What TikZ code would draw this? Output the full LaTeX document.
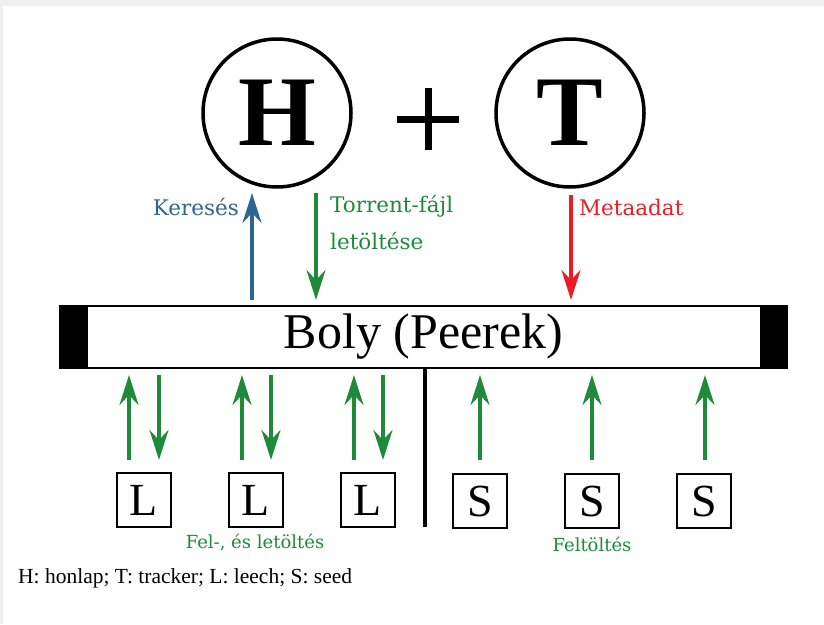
\documentclass[tikz,border=0pt]{standalone}
\usepackage{fontspec}
\setmainfont{Liberation Serif}
\newfontfamily\lblfont{DejaVu Serif}
\usetikzlibrary{arrows.meta}
\definecolor{mygreen}{RGB}{30,138,58}
\definecolor{myblue}{RGB}{47,101,145}
\definecolor{myred}{RGB}{237,28,36}
\definecolor{framegray}{RGB}{239,239,239}
\tikzset{
  bigcircle/.style={circle, draw, line width=3.5pt, minimum size=148pt, inner sep=0pt, font=\fontsize{100}{100}\selectfont\bfseries},
  peerbox/.style={draw, line width=1.8pt, minimum width=54pt, minimum height=54pt, inner sep=0pt, font=\fontsize{46}{46}\selectfont},
  flow/.style={line width=3.2pt, -{Stealth[length=30pt,width=19pt,inset=10pt]}},
  lbl/.style={font=\lblfont\fontsize{21.5}{37}\selectfont, inner sep=0pt},
  lblsmall/.style={font=\lblfont\fontsize{18}{22}\selectfont, inner sep=0pt},
}
\begin{document}
\begin{tikzpicture}[x=1pt,y=-1pt]
\useasboundingbox (0,0) rectangle (824,624);
\fill[framegray] (0,0) rectangle (824,624);
\fill[white] (3,6) rectangle (824,624);
% top circles
\node[bigcircle] (H) at (277,113) {H};
\node[bigcircle] (T) at (570,113) {T};
\node[inner sep=0pt] (plus) at (428,119) {};
\draw[line width=7pt] ([xshift=-31pt]plus.center) -- ([xshift=31pt]plus.center);
\draw[line width=7pt] ([yshift=31pt]plus.center) -- ([yshift=-31pt]plus.center);
% bar
\node[draw, line width=1.8pt, minimum width=727pt, minimum height=62pt, inner sep=0pt, font=\fontsize{50}{50}\selectfont] (bar) at (423.5,337) {Boly (Peerek)};
\fill (bar.north west) rectangle ++(29,62);
\fill (bar.north east) rectangle ++(-28,62);
% top arrows
\coordinate (kA) at (252,300);
\coordinate (kB) at (252,193);
\coordinate (tA) at (316,193);
\coordinate (tB) at (316,300);
\coordinate (mA) at (571,195);
\coordinate (mB) at (571,300);
\draw[flow, myblue] (kA) -- (kB);
\draw[flow, mygreen] (tA) -- (tB);
\draw[flow, myred] (mA) -- (mB);
\node[lbl, myblue, anchor=east] (kl) at (239,207) {Keresés};
\node[lbl, mygreen, anchor=west, align=left] (tl) at (330,223) {Torrent-fájl\\letöltése};
\node[lbl, myred, anchor=west] (ml) at (579,207) {Metaadat};
% divider
\coordinate (dA) at (425,368);
\coordinate (dB) at (425,527);
\draw[line width=4pt] (dA) -- (dB);
% boxes
\node[peerbox] (L1) at (144,500) {L};
\node[peerbox] (L2) at (256,500) {L};
\node[peerbox] (L3) at (368,500) {L};
\node[peerbox] (S1) at (480,501) {S};
\node[peerbox] (S2) at (592,501) {S};
\node[peerbox] (S3) at (704,501) {S};
% leech arrows
\foreach \n/\u/\d in {L1/129/159, L2/242/271, L3/354/383}{
  \coordinate (\n ua) at (\u,460);
  \coordinate (\n ub) at (\u,375);
  \coordinate (\n da) at (\d,375);
  \coordinate (\n db) at (\d,460);
  \draw[flow, mygreen] (\n ua) -- (\n ub);
  \draw[flow, mygreen] (\n da) -- (\n db);
}
\foreach \n/\u in {S1/480, S2/592, S3/705}{
  \coordinate (\n ua) at (\u,460);
  \coordinate (\n ub) at (\u,375);
  \draw[flow, mygreen] (\n ua) -- (\n ub);
}
\node[lblsmall, mygreen] (fl) at (255,543) {Fel-, és letöltés};
\node[lblsmall, mygreen] (ft) at (592,544) {Feltöltés};
\node[anchor=west, inner sep=0pt, font=\fontsize{21.5}{24}\selectfont] (legend) at (18,578) {H: honlap; T: tracker; L: leech; S: seed};
\end{tikzpicture}
\end{document}
